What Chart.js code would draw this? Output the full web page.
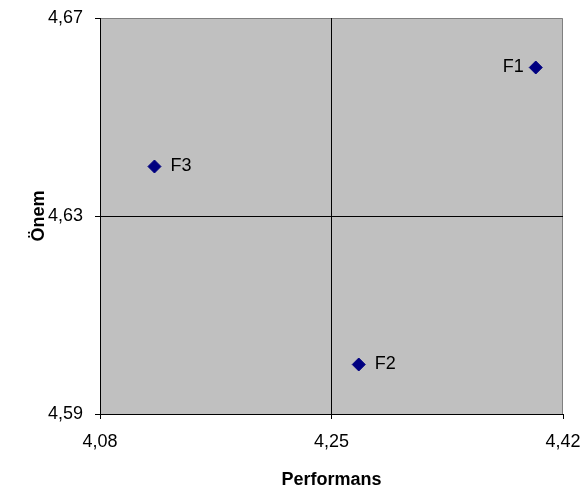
<!DOCTYPE html>
<html>
<head>
<meta charset="utf-8">
<script src="https://cdn.jsdelivr.net/npm/chart.js@4"></script>
<style>
  body { margin: 0; background: #fff; }
  #wrap { width: 584px; height: 491px; }
</style>
</head>
<body>
<div id="wrap"><canvas id="quadChart" width="584" height="491"></canvas></div>
<script>
// factor names and their scores
const names = ['F1', 'F2', 'F3'];
const performans = [4.40, 4.27, 4.12];
const onem = [4.66, 4.60, 4.64];

const xTicks = [4.08, 4.25, 4.42];
const yTicks = [4.59, 4.63, 4.67];

const FONT = 'Arial, "Liberation Sans", sans-serif';

function comma(v) {
  return v.toFixed(2).replace('.', ',');
}

// gray plot background + gray top/right frame
const plotBg = {
  id: 'plotBg',
  beforeDraw(chart) {
    const a = chart.chartArea, ctx = chart.ctx;
    ctx.save();
    ctx.fillStyle = '#c0c0c0';
    ctx.fillRect(a.left, a.top, a.right - a.left, a.bottom - a.top);
    ctx.strokeStyle = '#808080';
    ctx.lineWidth = 1;
    ctx.beginPath();
    ctx.moveTo(a.left, a.top + 0.5);
    ctx.lineTo(a.right - 0.5, a.top + 0.5);
    ctx.lineTo(a.right - 0.5, a.bottom);
    ctx.stroke();
    ctx.restore();
  }
};

// point names next to the markers
const pointNames = {
  id: 'pointNames',
  afterDatasetsDraw(chart) {
    const ctx = chart.ctx;
    const meta = chart.getDatasetMeta(0);
    ctx.save();
    ctx.font = '18px ' + FONT;
    ctx.fillStyle = '#000';
    ctx.textBaseline = 'middle';
    meta.data.forEach((pt, i) => {
      if (names[i] === 'F1') {
        ctx.textAlign = 'right';
        ctx.fillText(names[i], pt.x - 12, pt.y);
      } else {
        ctx.textAlign = 'left';
        ctx.fillText(names[i], pt.x + 16, pt.y);
      }
    });
    ctx.restore();
  }
};

const ctx = document.getElementById('quadChart').getContext('2d');
new Chart(ctx, {
  type: 'scatter',
  data: {
    datasets: [{
      data: performans.map((x, i) => ({ x: x, y: onem[i] })),
      pointStyle: 'rectRot',
      pointRadius: 6.5,
      pointHoverRadius: 6.5,
      backgroundColor: '#000080',
      borderColor: '#000080',
      borderWidth: 1
    }]
  },
  options: {
    responsive: false,
    animation: false,
    layout: { padding: { top: 18, right: 21, left: 0, bottom: 0 } },
    plugins: {
      legend: { display: false },
      tooltip: { enabled: false }
    },
    scales: {
      x: {
        type: 'linear',
        min: xTicks[0],
        max: xTicks[xTicks.length - 1],
        afterBuildTicks: s => { s.ticks = xTicks.map(v => ({ value: v })); },
        afterFit: s => { s.height = 77; s.paddingLeft = 0; s.paddingRight = 0; },
        grid: {
          color: c => c.index === 1 ? '#000' : 'rgba(0,0,0,0)',
          tickColor: '#000',
          tickLength: 5
        },
        border: { color: '#000', width: 1 },
        ticks: {
          padding: 12,
          color: '#000',
          font: { family: FONT, size: 18 },
          callback: v => comma(v)
        },
        title: {
          display: true,
          text: 'Performans',
          color: '#000',
          font: { family: FONT, size: 18, weight: 'bold' },
          padding: { top: 0, bottom: 0 }
        }
      },
      y: {
        type: 'linear',
        min: yTicks[0],
        max: yTicks[yTicks.length - 1],
        afterBuildTicks: s => { s.ticks = yTicks.map(v => ({ value: v })); },
        afterFit: s => { s.width = 100; s.paddingTop = 0; s.paddingBottom = 0; },
        grid: {
          color: c => c.index === 1 ? '#000' : 'rgba(0,0,0,0)',
          tickColor: '#000',
          tickLength: 5
        },
        border: { color: '#000', width: 1 },
        ticks: {
          padding: 12,
          color: '#000',
          font: { family: FONT, size: 18 },
          callback: v => comma(v)
        },
        title: {
          display: true,
          text: 'Önem',
          color: '#000',
          font: { family: FONT, size: 18, weight: 'bold' },
          padding: { top: 28, bottom: 0 }
        }
      }
    }
  },
  plugins: [plotBg, pointNames]
});
</script>
</body>
</html>
